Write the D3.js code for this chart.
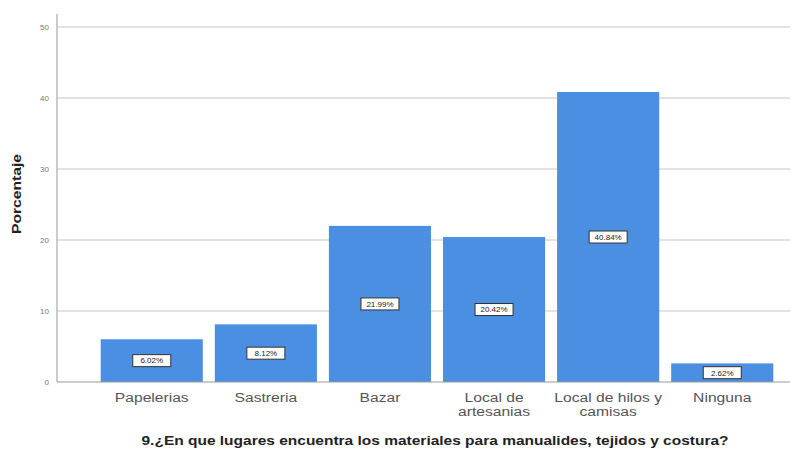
<!DOCTYPE html>
<html><head><meta charset="utf-8">
<script src="https://cdn.jsdelivr.net/npm/d3@7"></script>
<style>body{margin:0;background:#fff}svg{display:block}</style>
</head><body>
<svg id="c" width="807" height="455"></svg>
<script>
const categories = [["Papelerias"],["Sastreria"],["Bazar"],["Local de","artesanias"],["Local de hilos y","camisas"],["Ninguna"]];
const values = [6.02, 8.12, 21.99, 20.42, 40.84, 2.62];
const valueLabels = ["6.02%","8.12%","21.99%","20.42%","40.84%","2.62%"];
const yTicks = [0,10,20,30,40,50];

const FONT = "Arial, Liberation Sans, sans-serif";
const svg = d3.select("#c");
const mLeft = 57, mRight = 790, mTop = 14, mBottom = 382;
const y = d3.scaleLinear().domain([0,50]).range([mBottom, 27]);
const x = d3.scaleBand().domain(d3.range(categories.length)).range([95,779]).paddingInner(0.105).paddingOuter(0.05);

function stretch(sel, k){
  sel.each(function(){
    const w = this.getComputedTextLength();
    d3.select(this).attr("textLength", w*k).attr("lengthAdjust","spacingAndGlyphs");
  });
}

// grid
svg.append("g").selectAll("line").data(yTicks.filter(d=>d>0)).join("line")
  .attr("x1", mLeft).attr("x2", mRight).attr("y1", d=>y(d)).attr("y2", d=>y(d))
  .attr("stroke","#e3e3e3").attr("stroke-width",2);

// bars
svg.append("g").selectAll("rect").data(values).join("rect")
  .attr("x",(d,i)=>x(i)).attr("width",x.bandwidth())
  .attr("y",d=>y(d)).attr("height",d=>y(0)-y(d)).attr("fill","#4a8fe2");

// axes
const ya = d3.axisLeft(y).tickValues(yTicks).tickSize(0).tickPadding(8);
const gy = svg.append("g").attr("transform",`translate(${mLeft},0)`).call(ya);
gy.select(".domain").remove();
gy.selectAll("text").attr("font-family",FONT).attr("font-size",8).attr("fill","#777");
svg.append("line").attr("x1",mLeft).attr("x2",mLeft).attr("y1",mTop).attr("y2",mBottom).attr("stroke","#999");
svg.append("line").attr("x1",mLeft).attr("x2",mRight).attr("y1",mBottom).attr("y2",mBottom).attr("stroke","#999");

// value labels
const lab = svg.append("g").selectAll("g").data(values).join("g")
  .attr("transform",(d,i)=>`translate(${x(i)+x.bandwidth()/2},${(y(d)+y(0))/2})`);
lab.append("rect").attr("x",-19).attr("y",-6).attr("width",38).attr("height",12)
  .attr("fill","#fff").attr("stroke","#333").attr("stroke-width",1);
lab.append("text").text((d,i)=>valueLabels[i]).attr("text-anchor","middle").attr("dy","0.35em")
  .attr("font-family",FONT).attr("font-size",8).attr("fill","#222");

// category labels
const cl = svg.append("g").selectAll("text").data(categories).join("text")
  .attr("x",(d,i)=>x(i)+x.bandwidth()/2).attr("y",402).attr("text-anchor","middle")
  .attr("font-family",FONT).attr("font-size",12.5).attr("fill","#555");
cl.selectAll("tspan").data(d=>d).join("tspan").attr("x",function(){return this.parentNode.getAttribute("x");})
  .attr("dy",(d,i)=>i?14:0).text(d=>d);
stretch(cl.selectAll("tspan"), 1.25);

// titles
const t = svg.append("text").attr("x",435).attr("y",445).attr("text-anchor","middle")
  .attr("font-family",FONT).attr("font-size",13).attr("font-weight","bold").attr("fill","#222")
  .text("9.¿En que lugares encuentra los materiales para manualides, tejidos y costura?");
t.attr("textLength",587).attr("lengthAdjust","spacingAndGlyphs");
const yl = svg.append("text").attr("transform","translate(21,194) rotate(-90)").attr("text-anchor","middle")
  .attr("font-family",FONT).attr("font-size",12).attr("font-weight","bold").attr("fill","#222")
  .text("Porcentaje");
yl.attr("textLength",80).attr("lengthAdjust","spacingAndGlyphs");
</script>
</body></html>
